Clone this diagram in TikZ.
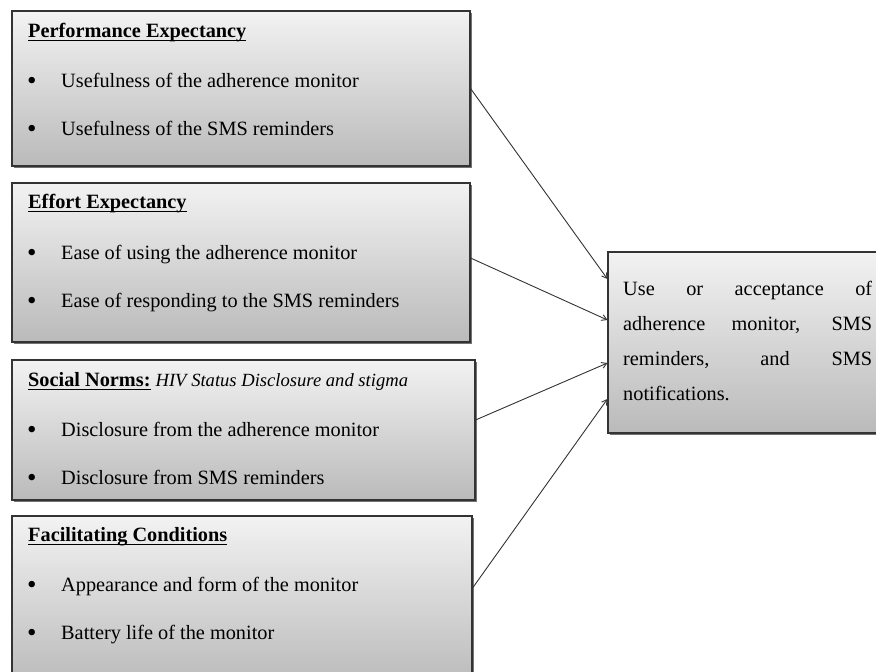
\documentclass[tikz,border=0pt]{standalone}
\usepackage{fontspec}
\setmainfont{Liberation Serif}
\usetikzlibrary{shadows,calc,arrows.meta}
\newcommand\myul[1]{\setbox0\hbox{#1}\rlap{\rule[-3.8pt]{\wd0}{1.2pt}}\box0\relax}
\newcommand\mybul{\makebox[34pt][l]{\raisebox{-2.2pt}{\fontsize{27}{27}\selectfont\textbullet}}}
\begin{document}
\begin{tikzpicture}[x=1pt,y=-1pt,
  box/.style={draw=black!80, line width=1.1pt, top color=black!5, bottom color=black!27,
    rectangle, inner sep=0pt,
    drop shadow={shadow xshift=2.2pt, shadow yshift=-2.2pt, opacity=0.55, fill=black}},
  txt/.style={anchor=base west, inner sep=0pt, font=\fontsize{20.3}{24}\selectfont},
  conn/.style={draw=black!80, line width=0.9pt, -{Straight Barb[length=5pt,width=6pt]}}]
\clip (0,0) rectangle (876,672);
\fill[white] (0,0) rectangle (876,672);
% boxes
\node[box, minimum width=458pt, minimum height=155pt] (b1) at (241,88.5) {};
\node[box, minimum width=458pt, minimum height=159pt] (b2) at (241,262.5) {};
\node[box, minimum width=463pt, minimum height=140pt] (b3) at (243.5,430) {};
\node[box, minimum width=460pt, minimum height=170pt] (b4) at (242,601) {};
\node[box, minimum width=282pt, minimum height=181pt] (out) at (749,342.5) {};
% texts box 1
\node[txt] (t1) at (28,37) {\myul{\textbf{Performance Expectancy}}};
\node[txt] (t1a) at (27,87) {\mybul Usefulness of the adherence monitor};
\node[txt] (t1b) at (27,135) {\mybul Usefulness of the SMS reminders};
% box 2
\node[txt] (t2) at (28,208) {\myul{\textbf{Effort Expectancy}}};
\node[txt] (t2a) at (27,259) {\mybul Ease of using the adherence monitor};
\node[txt] (t2b) at (27,307) {\mybul Ease of responding to the SMS reminders};
% box 3
\node[txt] (t3) at (28,386) {\myul{\textbf{Social Norms:}} {\fontsize{18.6}{22}\selectfont\itshape HIV Status Disclosure and stigma}};
\node[txt] (t3a) at (27,436) {\mybul Disclosure from the adherence monitor};
\node[txt] (t3b) at (27,484) {\mybul Disclosure from SMS reminders};
% box 4
\node[txt] (t4) at (28,541) {\myul{\textbf{Facilitating Conditions}}};
\node[txt] (t4a) at (27,591) {\mybul Appearance and form of the monitor};
\node[txt] (t4b) at (27,639) {\mybul Battery life of the monitor};
% outcome text
\node[txt] (o1) at (623,295) {\makebox[249pt][s]{Use or acceptance of}};
\node[txt] (o2) at (623,330) {\makebox[249pt][s]{adherence monitor, SMS}};
\node[txt] (o3) at (623,365) {\makebox[249pt][s]{reminders, and SMS}};
\node[txt] (o4) at (623,400) {notifications.};
% connectors
\draw[conn] (b1.east) -- ($(out.west)+(0,-63.5)$);
\draw[conn] ($(b2.east)+(0,-4.5)$) -- ($(out.west)+(0,-22.5)$);
\draw[conn] ($(b3.east)+(0,-10)$) -- ($(out.west)+(0,20.5)$);
\draw[conn] ($(b4.east)+(0,-13)$) -- ($(out.west)+(0,56.5)$);
\end{tikzpicture}
\end{document}
